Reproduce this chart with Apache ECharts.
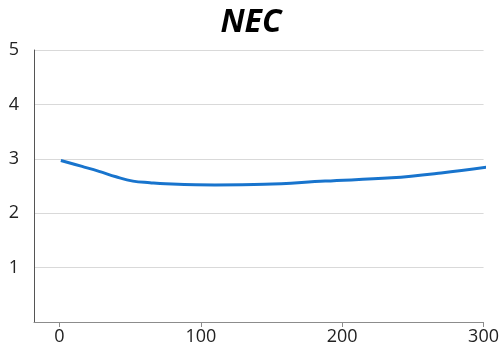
<!DOCTYPE html>
<html>
<head>
<meta charset="utf-8">
<script src="https://cdn.jsdelivr.net/npm/echarts@6/dist/echarts.min.js"></script>
<style>
  html, body { margin: 0; padding: 0; background: #fff; }
  #chart { width: 502px; height: 350px; }
</style>
</head>
<body>
<div id="chart"></div>
<script>
// values
const xValues = [1, 16, 28, 40, 52, 64, 75, 110, 145, 188, 235, 270, 306];
const necValues = [2.97, 2.86, 2.77, 2.67, 2.59, 2.56, 2.54, 2.52, 2.53, 2.59, 2.65, 2.74, 2.86];
const xTicks = [0, 100, 200, 300];

const chart = echarts.init(document.getElementById('chart'));
chart.setOption({
  animation: false,
  title: {
    text: 'NEC',
    left: 'center',
    top: 2,
    textStyle: { fontFamily: 'Open Sans', fontSize: 32, fontWeight: 'bold', fontStyle: 'italic', color: '#000' }
  },
  grid: { left: 34, right: 15, top: 50, bottom: 28 },
  xAxis: {
    type: 'value',
    min: -18,
    max: 300,
    axisLine: { onZero: false, lineStyle: { color: '#8c8c8c', width: 1 } },
    axisTick: { show: true, length: 5, lineStyle: { color: '#8c8c8c' }, customValues: xTicks },
    axisLabel: { customValues: xTicks, fontFamily: 'Open Sans', fontSize: 18, color: '#222', margin: 6 },
    splitLine: { show: false }
  },
  yAxis: {
    type: 'value',
    min: 0,
    max: 5,
    interval: 1,
    axisLine: { show: true, onZero: false, lineStyle: { color: '#555', width: 1 } },
    axisTick: { show: false },
    axisLabel: { showMinLabel: false, fontFamily: 'Open Sans', fontSize: 18, color: '#222', margin: 15 },
    splitLine: { lineStyle: { color: '#d9d9d9', width: 1 } }
  },
  series: [{
    type: 'line',
    data: xValues.map((x, i) => [x, necValues[i]]),
    smooth: 0.4,
    showSymbol: false,
    clip: false,
    lineStyle: { color: '#1874cd', width: 3 }
  }]
});
</script>
</body>
</html>
